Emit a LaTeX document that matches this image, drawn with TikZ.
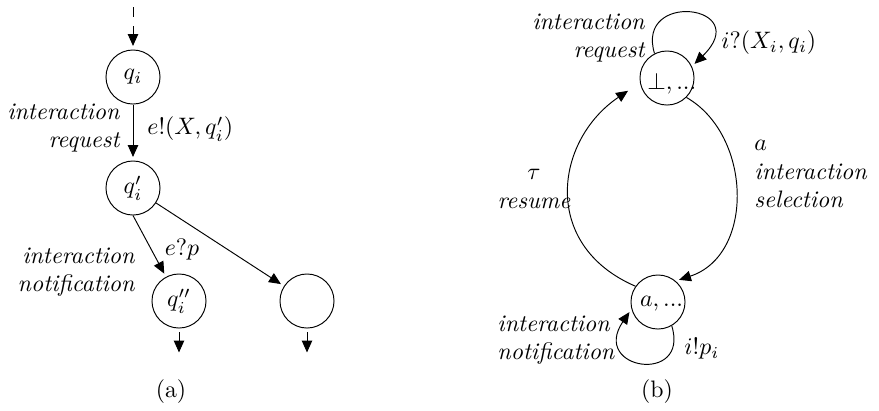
\documentclass[tikz,border=0pt]{standalone}
\usetikzlibrary{arrows.meta}
\begin{document}
\begin{tikzpicture}[x=0.42pt,y=-0.42pt,
  state/.style={circle,draw,minimum size=22.7pt,inner sep=0pt},
  arr/.style={-{Triangle[length=5pt,width=4.4pt]},shorten >=1.5pt},
  lbl/.style={inner sep=0pt,font=\itshape}]
\useasboundingbox (0,0) rectangle (879,410);
% ---------- (a)
\node[state] (qi) at (133,77) {$q_i$};
\node[state] (qi2) at (133,188) {$q_i'$};
\node[state] (qi3) at (179,301) {$q_i''$};
\node[state] (qe) at (307,301) {};
\coordinate (init) at (133,7);
\coordinate (o1) at (179,356);
\coordinate (o2) at (307,356);
\draw[arr,dash pattern=on 4pt off 4pt] (init) -- (qi);
\draw[arr] (qi) -- (qi2);
\draw[arr] (qi2.south) -- (qi3);
\draw[arr] (qi2) -- (qe);
\draw[arr,shorten <=1.5pt] (qi3) -- (o1);
\draw[arr,shorten <=1.5pt] (qe) -- (o2);
\node[lbl,align=right,anchor=east] (l1) at (120,128) {interaction\\request};
\node[inner sep=0pt,anchor=west] (l2) at (147,129) {$e!(X,q_i')$};
\node[inner sep=0pt] (l3) at (182,250) {$e?p$};
\node[lbl,align=right,anchor=east] (l4) at (135,272) {interaction\\notification};
\node[inner sep=0pt] (ca) at (171,392) {(a)};
% ---------- (b)
\node[state,label={[xshift=2pt,yshift=-2.5pt]center:$\bot,...$}] (bot) at (667,78) {};
\node[state,label={[xshift=1.5pt,yshift=-0.5pt]center:$a,...$}] (ab) at (658,302) {};
\draw[arr] (bot.117) .. controls (635,-10) and (755,5) .. (bot.25);
\draw[arr] (bot.-45) .. controls (752,135) and (755,255) .. (ab.50);
\draw[arr,shorten >=6pt] (ab.145) .. controls (540,245) and (555,140) .. (bot.190);
\draw[arr] (ab.-60) .. controls (690,385) and (590,370) .. (ab.195);
\node[lbl,align=right,anchor=east] (l5) at (645,38) {interaction\\request};
\node[inner sep=0pt,anchor=west] (l6) at (721,43) {$i?(X_i,q_i)$};
\node[lbl,align=center] (l7) at (534,189) {$\tau$\\resume};
\node[lbl,align=left,anchor=west] (l8) at (754,174) {$a$\\interaction\\selection};
\node[lbl,align=left,anchor=west] (l9) at (497,340) {interaction\\notification};
\node[inner sep=0pt,anchor=west] (l10) at (684,349) {$i!p_i$};
\node[inner sep=0pt] (cb) at (657,392) {(b)};
\end{tikzpicture}
\end{document}
